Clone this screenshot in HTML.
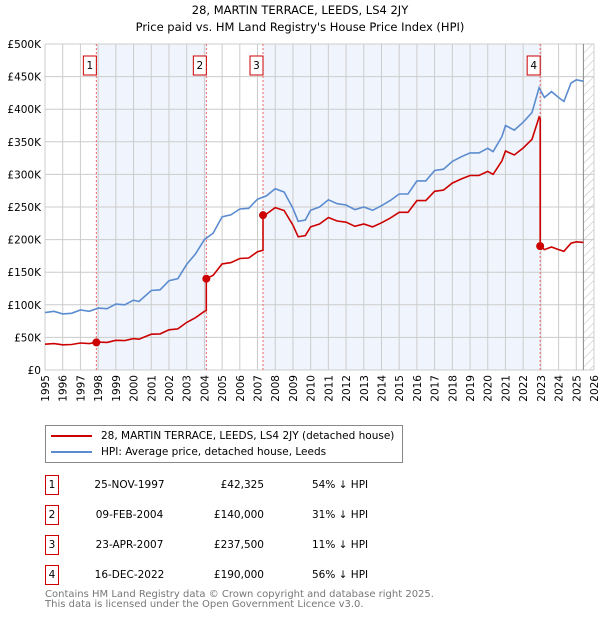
<!DOCTYPE html>
<html><head><meta charset="utf-8">
<style>
body{margin:0;background:#fff;font-family:"DejaVu Sans","Liberation Sans",sans-serif;}
#wrap{position:relative;width:600px;height:620px;overflow:hidden;}
.t{position:absolute;white-space:nowrap;color:#000;}
</style></head>
<body>
<div id="wrap">
<div class="t" style="left:0;width:600px;text-align:center;top:3px;font-size:11.5px;">28, MARTIN TERRACE, LEEDS, LS4 2JY</div>
<div class="t" style="left:0;width:600px;text-align:center;top:20px;font-size:11.5px;">Price paid vs. HM Land Registry's House Price Index (HPI)</div>
<svg id="chart" width="600" height="420" style="position:absolute;left:0;top:0" xmlns="http://www.w3.org/2000/svg"></svg>

<div style="position:absolute;left:45px;top:425px;width:356px;height:36px;border:1px solid #888;font-size:10.5px;white-space:nowrap;">
  <div style="position:absolute;left:5px;top:4px;"><span style="display:inline-block;width:41px;height:2px;background:#cc0000;vertical-align:middle;margin-right:9px"></span>28, MARTIN TERRACE, LEEDS, LS4 2JY (detached house)</div>
  <div style="position:absolute;left:5px;top:20px;"><span style="display:inline-block;width:41px;height:2px;background:#5b8ccf;vertical-align:middle;margin-right:9px"></span>HPI: Average price, detached house, Leeds</div>
</div>

<div id="table"></div>

<div class="t" style="left:45px;top:590px;font-size:10px;color:#777;line-height:10px;">Contains HM Land Registry data © Crown copyright and database right 2025.<br>This data is licensed under the Open Government Licence v3.0.</div>
</div>
<script>
const hpiT=[1995,1995.5,1996,1996.5,1997,1997.5,1998,1998.5,1999,1999.5,2000,2000.3,2001,2001.5,2002,2002.5,2003,2003.5,2004,2004.5,2005,2005.5,2006,2006.5,2007,2007.5,2008,2008.5,2009,2009.3,2009.7,2010,2010.5,2011,2011.5,2012,2012.5,2013,2013.5,2014,2014.5,2015,2015.5,2016,2016.5,2017,2017.5,2018,2018.5,2019,2019.5,2020,2020.3,2020.8,2021,2021.5,2022,2022.5,2022.9,2023.2,2023.6,2024,2024.3,2024.7,2025,2025.4];
const hpiV=[88,90,86,87,92,90,95,94,101,100,107,105,122,123,137,140,162,178,200,210,235,238,247,248,262,267,278,273,248,228,230,245,250,261,255,253,246,250,245,252,260,270,270,290,290,306,308,320,327,333,333,340,335,358,375,368,380,395,433,418,427,418,412,440,445,443];
const saleT=[1997.9,2004.11,2007.31,2022.96];
const saleP=[42325,140000,237500,190000];
const saleDates=["25-NOV-1997","09-FEB-2004","23-APR-2007","16-DEC-2022"];
const saleLabels=["£42,325","£140,000","£237,500","£190,000"];
const saleDiff=["54% ↓ HPI","31% ↓ HPI","11% ↓ HPI","56% ↓ HPI"];
const yTicks=[0,50,100,150,200,250,300,350,400,450,500];
const yLabels=["£0","£50K","£100K","£150K","£200K","£250K","£300K","£350K","£400K","£450K","£500K"];
const xYears=[1995,1996,1997,1998,1999,2000,2001,2002,2003,2004,2005,2006,2007,2008,2009,2010,2011,2012,2013,2014,2015,2016,2017,2018,2019,2020,2021,2022,2023,2024,2025,2026];

const L=45,R=594,T=44,B=370;
const X=y=>L+(y-1995)/(2026-1995)*(R-L);
const Y=v=>B-v/500*(B-T);
const NS="http://www.w3.org/2000/svg";
const svg=document.getElementById('chart');
function mk(tag,attrs,parent){const e=document.createElementNS(NS,tag);for(const k in attrs)e.setAttribute(k,attrs[k]);(parent||svg).appendChild(e);return e;}
function hpiAt(t){for(let i=0;i<hpiT.length-1;i++){if(t>=hpiT[i]&&t<=hpiT[i+1]){const f=(t-hpiT[i])/(hpiT[i+1]-hpiT[i]);return hpiV[i]+f*(hpiV[i+1]-hpiV[i]);}}return hpiV[hpiV.length-1];}

const defs=mk('defs',{});
const pat=mk('pattern',{id:'hatch',width:6,height:6,patternUnits:'userSpaceOnUse',patternTransform:'rotate(45)'},defs);
mk('line',{x1:0,y1:0,x2:0,y2:6,stroke:'#bbb','stroke-width':1},pat);

for(let i=0;i<saleT.length;i++){
  if(i%2===0){
    const end=i+1<saleT.length?saleT[i+1]:2025.4;
    const r=mk('rect',{x:X(saleT[i]),y:T,width:X(end)-X(saleT[i]),height:B-T,fill:'#f0f4fd'});
    
    
  }
}
const hr=mk('rect',{x:X(2025.4),y:T,width:R-X(2025.4),height:B-T,fill:'url(#hatch)'});



yTicks.forEach((v,i)=>{
  mk('line',{x1:L,x2:R,y1:Y(v),y2:Y(v),stroke:'#ccc','stroke-width':1});
  const t=mk('text',{x:41,y:Y(v)+4,'text-anchor':'end','font-size':10.5,fill:'#000'});
  t.textContent=yLabels[i];
  
  
});
xYears.forEach(y=>{
  mk('line',{x1:X(y),x2:X(y),y1:T,y2:B,stroke:'#ccc','stroke-width':1});
  const t=mk('text',{transform:`translate(${X(y)+4},${B+5}) rotate(-90)`,'text-anchor':'end','font-size':10.5,fill:'#000'});
  t.textContent=y;
  
  
});
mk('line',{x1:X(2025.4),x2:X(2025.4),y1:T,y2:B,stroke:'#888','stroke-width':1});

saleT.forEach((s,i)=>{
  mk('line',{x1:X(s),x2:X(s),y1:T,y2:B,stroke:'#e66','stroke-width':1,'stroke-dasharray':'2,2'});
  const g=mk('g',{});
  
  
  mk('rect',{x:X(s)-13,y:56,width:13,height:19,fill:'#fff',stroke:'#cc0000','stroke-width':1},g);
  const t=mk('text',{x:X(s)-6.5,y:69,'text-anchor':'middle','font-size':10.5,fill:'#000'},g);
  t.textContent=i+1;
});

let d='';
hpiT.forEach((t,i)=>{d+=(i?'L':'M')+X(t).toFixed(1)+','+Y(hpiV[i]).toFixed(1);});
const hl=mk('path',{d,fill:'none',stroke:'#5b8ccf','stroke-width':1.6});



let pd='';let first=true;
for(let k=0;k<saleT.length;k++){
  const f=saleP[k]/1000/hpiAt(saleT[k]);
  const start=k===0?1995:saleT[k];
  const end=k+1<saleT.length?saleT[k+1]:2025.4;
  const pts=[start].concat(hpiT.filter(t=>t>start&&t<end)).concat([end]);
  pts.forEach(t=>{pd+=(first?'M':'L')+X(t).toFixed(1)+','+Y(hpiAt(t)*f).toFixed(1);first=false;});
}
const pl=mk('path',{d:pd,fill:'none',stroke:'#cc0000','stroke-width':1.6});


saleT.forEach((s,i)=>{
  const c=mk('circle',{cx:X(s),cy:Y(saleP[i]/1000),r:4,fill:'#cc0000'});
  
  
});

const tb=document.getElementById('table');
saleT.forEach((s,i)=>{
  const top=475+i*30;
  const row=document.createElement('div');
  
  
  row.style.cssText=`position:absolute;left:0;top:${top}px;width:600px;height:20px;font-size:10.5px;white-space:nowrap;`;
  row.innerHTML=`<div style="position:absolute;left:45px;top:0;width:12px;height:18px;border:1px solid #cc0000;text-align:center;line-height:18px">${i+1}</div>`+
   `<div style="position:absolute;left:83px;width:93px;text-align:center;line-height:20px">${saleDates[i]}</div>`+
   `<div style="position:absolute;left:180px;width:84px;text-align:right;line-height:20px">${saleLabels[i]}</div>`+
   `<div style="position:absolute;left:312px;line-height:20px">${saleDiff[i]}</div>`;
  tb.appendChild(row);
});
</script>
</body></html>
